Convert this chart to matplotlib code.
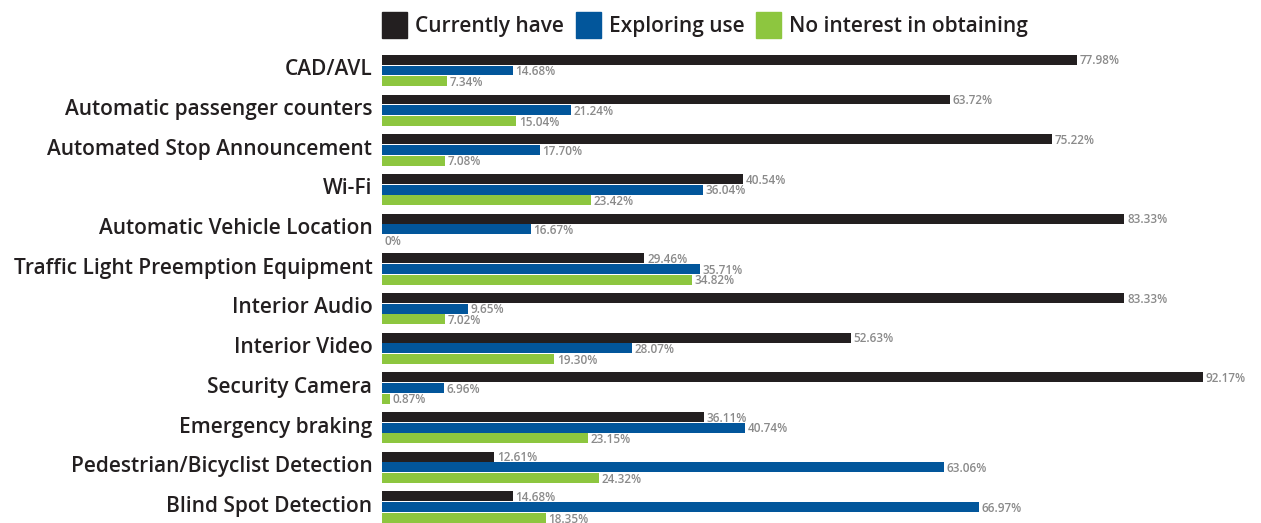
import matplotlib.pyplot as plt
from matplotlib.patches import Patch

# data
categories = ["CAD/AVL", "Automatic passenger counters", "Automated Stop Announcement", "Wi-Fi",
              "Automatic Vehicle Location", "Traffic Light Preemption Equipment", "Interior Audio",
              "Interior Video", "Security Camera", "Emergency braking",
              "Pedestrian/Bicyclist Detection", "Blind Spot Detection"]
currently_have = [77.98, 63.72, 75.22, 40.54, 83.33, 29.46, 83.33, 52.63, 92.17, 36.11, 12.61, 14.68]
exploring_use = [14.68, 21.24, 17.70, 36.04, 16.67, 35.71, 9.65, 28.07, 6.96, 40.74, 63.06, 66.97]
no_interest = [7.34, 15.04, 7.08, 23.42, 0, 34.82, 7.02, 19.30, 0.87, 23.15, 24.32, 18.35]
series_names = ["Currently have", "Exploring use", "No interest in obtaining"]
colors = ["#231f20", "#02569b", "#8dc63f"]

plt.rcParams['font.family'] = ['Open Sans', 'DejaVu Sans']

fig = plt.figure(figsize=(12.61, 5.23), dpi=100)
ax = fig.add_axes([382 / 1261, 0, 1 - 382 / 1261, 1])

pitch = 0.27
height = 0.25
ys = list(range(len(categories)))
for k, (vals, col) in enumerate(zip([currently_have, exploring_use, no_interest], colors)):
    pos = [y + (k - 1) * pitch for y in ys]
    ax.barh(pos, vals, height=height, color=col)
    for p, v in zip(pos, vals):
        txt = "0%" if v == 0 else "%.2f%%" % v
        ax.text(v + 0.3, p + 0.03, txt, va='center', ha='left', fontsize=8.5, color='#8a8a8a',
                fontweight='semibold')

ax.set_xlim(0, 98.65)
ax.set_ylim(11.4, -1.776)
ax.set_yticks([y - 0.08 for y in ys])
ax.set_yticklabels(categories, fontsize=15, fontweight='semibold', color='#231f20')
ax.tick_params(axis='y', length=0, pad=7)
ax.set_xticks([])
for s in ax.spines.values():
    s.set_visible(False)

handles = [Patch(color=c) for c in colors]
leg = fig.legend(handles, series_names, loc='upper left', bbox_to_anchor=(382 / 1261, 1 - 12 / 523),
                 ncol=3, frameon=False, fontsize=15, handlelength=1.2, handleheight=1.55,
                 columnspacing=0.55, handletextpad=0.4, borderpad=0, borderaxespad=0)
for t in leg.get_texts():
    t.set_fontweight('semibold')
    t.set_color('#231f20')

plt.savefig("out.png", dpi=100)
